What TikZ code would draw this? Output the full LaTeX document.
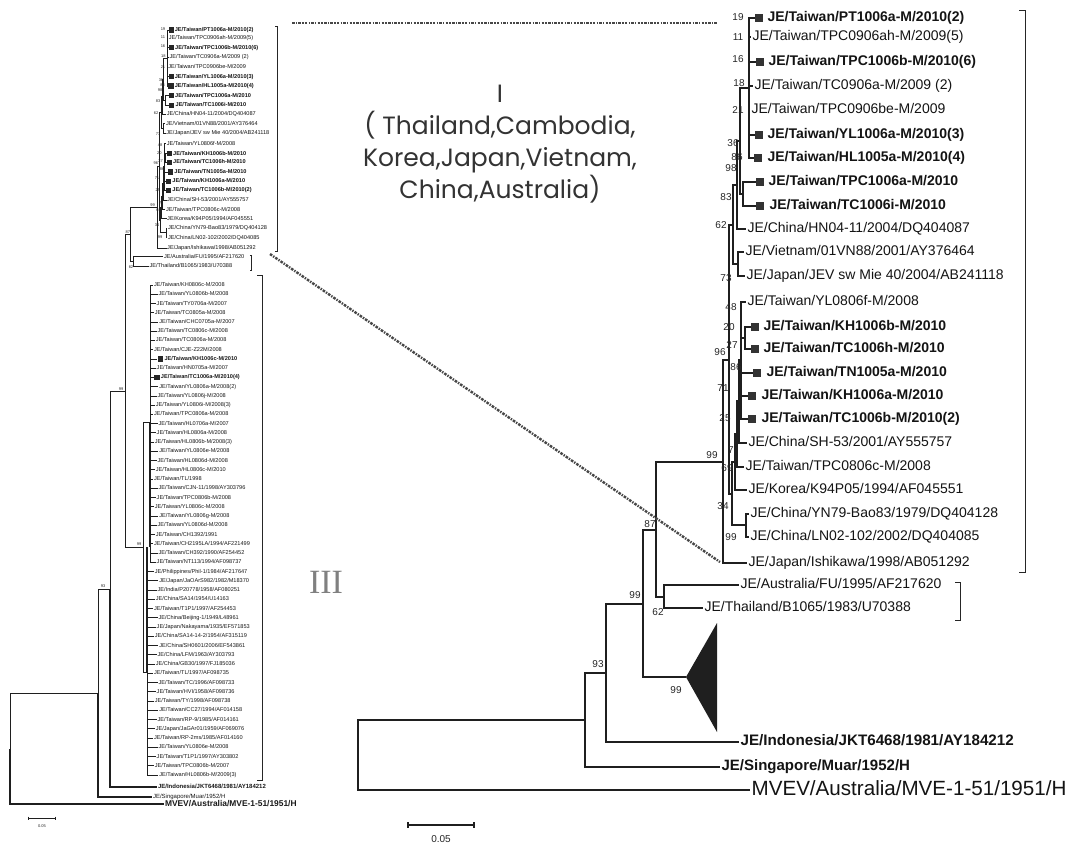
\documentclass[tikz,border=0pt]{standalone}
\usepackage{fontspec}
\usetikzlibrary{calc}
\setmainfont{Liberation Sans}
\newfontfamily\comicf{Poppins}
\newfontfamily\serff{Liberation Serif}
\tikzset{
 br/.style={line width=0.75pt, draw=black!88},
 lab/.style={anchor=west, inner sep=0.6pt, font=\fontsize{7}{8}\selectfont, text height=5.1pt, text depth=1.4pt, text=black!92},
 labb/.style={font=\fontsize{7}{8}\selectfont\bfseries},
 sq/.style={draw=none, fill=black!80, minimum size=3.6pt, inner sep=0pt},
 bsl/.style={font=\fontsize{5}{6}\selectfont, inner sep=0pt, text=black!85},
 brk/.style={line width=0.5pt, draw=black!85},
 dotl/.style={line width=1.2pt, draw=black!72, dash pattern=on 1.3pt off 0.6pt on 0.7pt off 0.6pt},
 labs/.style={anchor=west, inner sep=0.3pt, font=\fontsize{2.8}{3}\selectfont, text height=2.1pt, text depth=0.6pt, text=black!90},
 brL/.style={line width=0.45pt, draw=black!88},
 sqL/.style={draw=none, fill=black!85, minimum size=2.8pt, inner sep=0pt},
}
\newcommand{\tipT}[5]{\node[lab] (#1) at (#2,#3) {#4};\draw[br] (#5) |- (#1.west);}
\newcommand{\tipB}[6]{\node[sq] (#1s) at (#2,#4) {};\node[lab,labb] (#1) at (#3,#4) {#5};\draw[br] (#6) |- (#1s.west);}
\newcommand{\bsv}[4]{\node[bsl] (#1) at (#2,#3) {#4};}
\newcommand{\cladeI}[1]{%
\coordinate (#1D) at (656,530);
\coordinate (#1AT) at (664,597);
\coordinate (#1N1) at (723,462);
\coordinate (#1M) at (729,360);
\coordinate (#1U) at (733,225);
\coordinate (#1N62) at (737,185);
\coordinate (#1N83) at (740,141);
\coordinate (#1P0) at (749,88);
\coordinate (#1N98) at (743,194);
\coordinate (#1N73) at (738,264);
\coordinate (#1N34) at (732,494);
\coordinate (#1NK) at (735,462);
\coordinate (#1N69) at (737,434);
\coordinate (#1N7) at (739,401);
\coordinate (#1P1) at (741,360);
\coordinate (#1Q1) at (745,338);
\coordinate (#1NYL) at (746,525);
\draw[br] (#1D) |- (#1N1); \draw[br] (#1D) |- (#1AT);
\draw[br] (#1N1) |- (#1M);
\draw[br] (#1M) |- (#1U); \draw[br] (#1M) |- (#1N34);
\draw[br] (#1U) |- (#1N62); \draw[br] (#1U) |- (#1N73);
\draw[br] (#1N62) |- (#1N83);
\draw[br] (#1N83) |- (#1P0); \draw[br] (#1N83) |- (#1N98);
\draw[br] (#1N34) |- (#1NK); \draw[br] (#1N34) |- (#1NYL);
\draw[br] (#1NK) |- (#1N69);
\draw[br] (#1N69) |- (#1N7);
\draw[br] (#1N7) |- (#1P1);
\draw[br] (#1P1) |- (#1Q1);
\tipB{#1t01}{759}{766}{18}{JE/Taiwan/PT1006a-M/2010(2)}{#1P0}
\tipT{#1t02}{751}{37}{JE/Taiwan/TPC0906ah-M/2009(5)}{#1P0}
\tipB{#1t03}{760}{767}{62}{JE/Taiwan/TPC1006b-M/2010(6)}{#1P0}
\tipT{#1t04}{753}{86}{JE/Taiwan/TC0906a-M/2009 (2)}{#1P0}
\tipT{#1t05}{750}{110}{JE/Taiwan/TPC0906be-M/2009}{#1P0}
\tipB{#1t06}{759}{766}{135}{JE/Taiwan/YL1006a-M/2010(3)}{#1P0}
\tipB{#1t07}{758}{766}{158}{JE/Taiwan/HL1005a-M/2010(4)}{#1P0}
\tipB{#1t08}{760}{767}{182}{JE/Taiwan/TPC1006a-M/2010}{#1N98}
\tipB{#1t09}{760}{768}{206}{JE/Taiwan/TC1006i-M/2010}{#1N98}
\tipT{#1t10}{746}{229}{JE/China/HN04-11/2004/DQ404087}{#1N62}
\tipT{#1t11}{744}{252}{JE/Vietnam/01VN88/2001/AY376464}{#1N73}
\tipT{#1t12}{745}{276}{JE/Japan/JEV sw Mie 40/2004/AB241118}{#1N73}
\tipT{#1t13}{746}{302}{JE/Taiwan/YL0806f-M/2008}{#1P1}
\tipB{#1t14}{755}{762}{327}{JE/Taiwan/KH1006b-M/2010}{#1Q1}
\tipB{#1t15}{755}{762}{349}{JE/Taiwan/TC1006h-M/2010}{#1Q1}
\tipB{#1t16}{757}{765}{373}{JE/Taiwan/TN1005a-M/2010}{#1P1}
\tipB{#1t17}{752}{760}{396}{JE/Taiwan/KH1006a-M/2010}{#1P1}
\tipB{#1t18}{752}{760}{419}{JE/Taiwan/TC1006b-M/2010(2)}{#1P1}
\tipT{#1t19}{747}{443}{JE/China/SH-53/2001/AY555757}{#1N7}
\tipT{#1t20}{744}{467}{JE/Taiwan/TPC0806c-M/2008}{#1N69}
\tipT{#1t21}{747}{490}{JE/Korea/K94P05/1994/AF045551}{#1NK}
\tipT{#1t22}{749}{514}{JE/China/YN79-Bao83/1979/DQ404128}{#1NYL}
\tipT{#1t23}{749}{537}{JE/China/LN02-102/2002/DQ404085}{#1NYL}
\tipT{#1t24}{747}{563}{JE/Japan/Ishikawa/1998/AB051292}{#1N1}
\tipT{#1aus}{739}{585}{JE/Australia/FU/1995/AF217620}{#1AT}
\tipT{#1tha}{703}{608}{JE/Thailand/B1065/1983/U70388}{#1AT}
\bsv{#1b01}{738}{17}{19}
\bsv{#1b02}{738}{37}{11}
\bsv{#1b03}{738}{59}{16}
\bsv{#1b04}{739}{83}{18}
\bsv{#1b05}{738}{110}{21}
\bsv{#1b06}{733}{143}{36}
\bsv{#1b07}{737}{157}{86}
\bsv{#1b08}{731}{168}{98}
\bsv{#1b09}{726}{197}{83}
\bsv{#1b10}{721}{225}{62}
\bsv{#1b11}{726}{278}{73}
\bsv{#1b12}{731}{307}{48}
\bsv{#1b13}{729}{327}{20}
\bsv{#1b14}{732}{345}{27}
\bsv{#1b15}{720}{352}{96}
\bsv{#1b16}{736}{367}{86}
\bsv{#1b17}{723}{388}{71}
\bsv{#1b18}{725}{418}{25}
\bsv{#1b19}{731}{450}{7}
\bsv{#1b20}{727}{468}{69}
\bsv{#1b21}{723}{506}{34}
\bsv{#1b22}{731}{537}{99}
\bsv{#1b23}{712}{455}{99}
\bsv{#1b24}{650}{524}{87}
\bsv{#1b25}{658}{612}{62}
\draw[brk] (1019,10) -- (1025,10) -- (1025,572) -- (1019,572);
\draw[brk] (955,582) -- (960,582) -- (960,620) -- (955,620);
}
\begin{document}
\begin{tikzpicture}[x=0.5pt,y=-0.5pt]
\fill[white] (0,0) rectangle (1079,843);
\useasboundingbox (0,0) rectangle (1079,843);

% ===== right tree =====
\cladeI{R}
\coordinate (RC) at (643,604);
\coordinate (RB) at (606,673);
\coordinate (RA) at (585,720);
\coordinate (Rroot) at (358,755);
\coordinate (Rapex) at (686,677);
\fill[black!88] (Rapex) -- (717,623) -- (717,732) -- cycle;
\draw[br] (RC) |- (RD);
\draw[br] (RC) |- (Rapex);
\node[lab,font=\fontsize{7.6}{9}\selectfont\bfseries] (Rindo) at (739,742) {JE/Indonesia/JKT6468/1981/AY184212};
\node[lab,font=\fontsize{7.5}{9}\selectfont\bfseries] (Rsing) at (720,767) {JE/Singapore/Muar/1952/H};
\node[lab,font=\fontsize{10.3}{12}\selectfont,text height=7.3pt,text depth=2pt] (Rmvev) at (750,790) {MVEV/Australia/MVE-1-51/1951/H};
\draw[br] (RB) |- (RC); \draw[br] (RB) |- (Rindo.west);
\draw[br] (RA) |- (RB); \draw[br] (RA) |- (Rsing.west);
\draw[br] (Rroot) |- (RA); \draw[br,line width=1pt] (Rroot) |- (Rmvev.west);
\bsv{Rb93}{598}{664}{93}
\bsv{Rb99a}{635}{595}{99}
\bsv{Rb99b}{676}{690}{99}
% scale bar
\coordinate (RsbA) at (408,825);
\coordinate (RsbB) at (474,825);
\draw[br] (RsbA) -- (RsbB);
\draw[br] ($(RsbA)+(0,-3)$) -- ($(RsbA)+(0,3)$);
\draw[br] ($(RsbB)+(0,-3)$) -- ($(RsbB)+(0,3)$);
\node[bsl] (Rsbl) at (441,839) {0.05};

% ===== left tree =====
\begin{scope}[shift={(-132.2,22.8)},scale=0.4,transform shape,
  br/.style={line width=0.45pt, draw=black!88},
  brk/.style={line width=0.4pt, draw=black!85},
  sq/.style={draw=none, fill=black!85, minimum size=6.5pt, inner sep=0pt}]
\cladeI{L}
\end{scope}
\coordinate (LC) at (125,391);
\coordinate (LN3) at (143,547);
\coordinate (LG1) at (150,422);
\coordinate (LG2) at (147,672);
\coordinate (LB) at (110,589);
\coordinate (LA) at (98,693);
\coordinate (Lroot) at (10,748.5);
\draw[brL] (LC) |- (LD);
\draw[brL] (LC) |- (LN3);
\draw[brL] (LN3) |- (LG1);
\draw[brL] (LN3) |- (LG2);
\foreach \lbl [count=\i from 0] in {JE/Taiwan/KH0806c-M/2008,JE/Taiwan/YL0806b-M/2008,JE/Taiwan/TY0706a-M/2007,JE/Taiwan/TC0805a-M/2008,JE/Taiwan/CHC0705a-M/2007,JE/Taiwan/TC0806c-M/2008,JE/Taiwan/TC0806a-M/2008,JE/Taiwan/CJE-Z22M/2008,JE/Taiwan/KH1006c-M/2010,JE/Taiwan/HN0705a-M/2007,JE/Taiwan/TC1006a-M/2010(4),JE/Taiwan/YL0806a-M/2008(2),JE/Taiwan/YL0806j-M/2008,JE/Taiwan/YL0806i-M/2008(3),JE/Taiwan/TPC0806a-M/2008,JE/Taiwan/HL0706a-M/2007,JE/Taiwan/HL0806a-M/2008,JE/Taiwan/HL0806b-M/2008(3),JE/Taiwan/YL0806e-M/2008,JE/Taiwan/HL0806d-M/2008,JE/Taiwan/HL0806c-M/2010,JE/Taiwan/TL/1998,JE/Taiwan/CJN-11/1998/AY303796,JE/Taiwan/TPC0806b-M/2008,JE/Taiwan/YL0806c-M/2008,JE/Taiwan/YL0806g-M/2008,JE/Taiwan/YL0806d-M/2008,JE/Taiwan/CH1392/1991,JE/Taiwan/CH2195LA/1994/AF221499,JE/Taiwan/CH392/1990/AF254452,JE/Taiwan/NT113/1994/AF098737,JE/Philippines/Phil-1/1984/AF217647,JE/Japan/JaOArS982/1982/M18370,JE/India/P20778/1958/AF080251,JE/China/SA14/1954/U14163,JE/Taiwan/T1P1/1997/AF254453,JE/China/Beijing-1/1949/L48961,JE/Japan/Nakayama/1935/EF571853,JE/China/SA14-14-2/1954/AF315119,JE/China/SH0601/2006/EF543861,JE/China/LFM/1963/AY303793,JE/China/GB30/1997/FJ185036,JE/Taiwan/TL/1997/AF098735,JE/Taiwan/TC/1996/AF098733,JE/Taiwan/HVI/1958/AF098736,JE/Taiwan/TY/1998/AF098738,JE/Taiwan/CC27/1994/AF014158,JE/Taiwan/RP-9/1985/AF014161,JE/Japan/JaGAr01/1959/AF069076,JE/Taiwan/RP-2ms/1985/AF014160,JE/Taiwan/YL0806e-M/2008,JE/Taiwan/T1P1/1997/AY303802,JE/Taiwan/TPC0806b-M/2007,JE/Taiwan/HL0806b-M/2009(3)} {
  \pgfmathsetmacro{\yy}{285+\i*9.245}
  \pgfmathsetmacro{\bx}{153+mod(\i*5,7)*0.9}
  \ifnum\i<31 \def\pnode{LG1}\else\def\pnode{LG2}\fi
  \ifnum\i=8 \def\hasq{1}\else\ifnum\i=10 \def\hasq{1}\else\def\hasq{0}\fi\fi
  \if1\hasq
    \node[sqL] (L3s\i) at ({\bx+3},\yy) {};
    \node[labs,font=\fontsize{2.8}{3}\selectfont\bfseries] (L3t\i) at ({\bx+6},\yy) {\lbl};
    \draw[brL] (\pnode) |- (L3s\i.west);
  \else
    \node[labs] (L3t\i) at (\bx,\yy) {\lbl};
    \draw[brL] (\pnode) |- (L3t\i.west);
  \fi
}
\draw[brL,line width=0.9pt] (LG1) -- (LN3 -| LG1);
\draw[brL,line width=0.9pt] (LG2) -- (LN3 -| LG2);
\node[labs,font=\fontsize{3}{3.5}\selectfont\bfseries] (Lindo) at (157,787) {JE/Indonesia/JKT6468/1981/AY184212};
\node[labs,font=\fontsize{3}{3.5}\selectfont] (Lsing) at (152,797) {JE/Singapore/Muar/1952/H};
\node[labs,font=\fontsize{4.2}{5}\selectfont\bfseries,text height=3pt,text depth=0.8pt] (Lmvev) at (164,804) {MVEV/Australia/MVE-1-51/1951/H};
\draw[brL] (LB) |- (LC); \draw[brL,line width=0.8pt] (LB) |- (Lindo.west);
\draw[brL] (LA) |- (LB); \draw[brL,line width=0.8pt] (LA) |- (Lsing.west);
\draw[brL] (Lroot) |- (LA); \draw[brL,line width=1pt] (Lroot) |- (Lmvev.west);
\draw[brk] (257,275) -- (262,275) -- (262,780) -- (257,780);
\node[bsl,font=\fontsize{2}{2.5}\selectfont] (Lb99) at (121,389) {99};
\node[bsl,font=\fontsize{2}{2.5}\selectfont] (Lb93) at (103,586) {93};
\node[bsl,font=\fontsize{2}{2.5}\selectfont] (Lb99c) at (139,544) {99};
\coordinate (LsbA) at (28,818);
\coordinate (LsbB) at (55,818);
\draw[brL] (LsbA) -- (LsbB);
\draw[brL] ($(LsbA)+(0,-1.5)$) -- ($(LsbA)+(0,1.5)$);
\draw[brL] ($(LsbB)+(0,-1.5)$) -- ($(LsbB)+(0,1.5)$);
\node[bsl,font=\fontsize{2}{2.5}\selectfont] (Lsbl) at (42,826) {0.05};

% ===== annotations =====
\node[align=center, font=\fontsize{12.5}{16}\comicf, text=black!80] (capI) at (500,144) {I\\( Thailand,Cambodia,\\Korea,Japan,Vietnam,\\China,Australia)};
\node[font=\fontsize{17}{18}\serff, text=black!50] (capIII) at (326,582) {III};
\coordinate (dotA) at (292,23);
\coordinate (dotB) at (717,23);
\coordinate (diagA) at (270,254);
\coordinate (diagB) at (720,562);
\draw[dotl] (dotA) -- (dotB);
\draw[dotl] (diagA) -- (diagB);
\end{tikzpicture}
\end{document}
